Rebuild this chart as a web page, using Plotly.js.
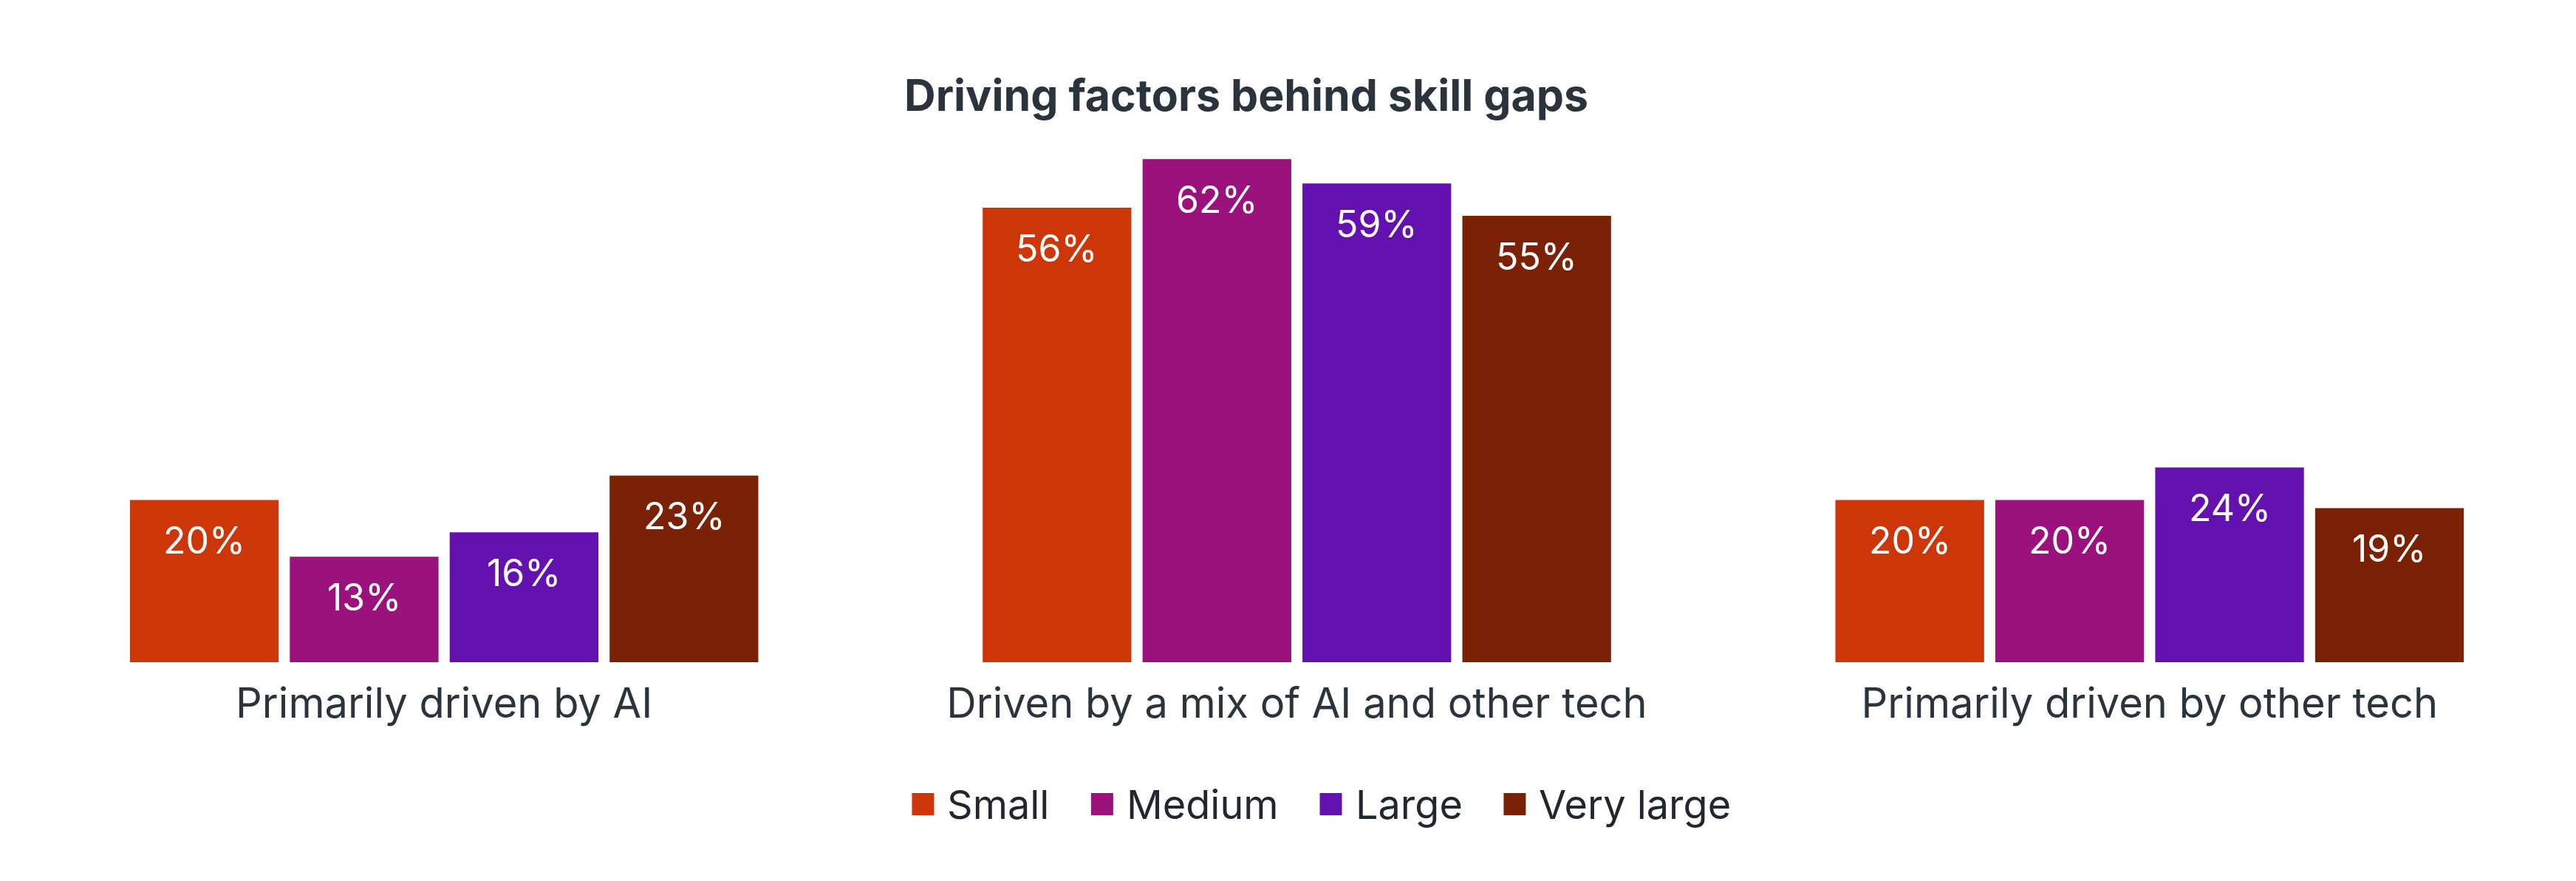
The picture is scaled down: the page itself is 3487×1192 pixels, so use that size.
<!DOCTYPE html>
<html>
<head>
<meta charset="utf-8">
<script src="https://cdn.plot.ly/plotly-3.0.1.min.js"></script>
<style>
  html, body { margin: 0; padding: 0; background: #ffffff; }
  #chart { width: 3487px; height: 1192px; }
</style>
</head>
<body>
<div id="chart"></div>
<script>
// Drivers of skill gaps, split by organisation size
const categories = [
  "Primarily driven by AI",
  "Driven by a mix of AI and other tech",
  "Primarily driven by other tech"
];
const seriesNames = ["Small", "Medium", "Large", "Very large"];
const small     = [20, 56, 20];
const medium    = [13, 62, 20];
const large     = [16, 59, 24];
const veryLarge = [23, 55, 19];
const seriesValues = [small, medium, large, veryLarge];
const seriesColors = ["#CC3608", "#9B127D", "#6412AF", "#7B2105"];

const FONT = "Inter, 'Noto Sans', sans-serif";
const TEXT_DARK = "#2B343C";
const BAR_GAP = 0.25;
const GROUP_GAP = 0.07;
const W = 3487, H = 1192;
const M = { l: 24, r: 0, t: 150, b: 296 };
const plotW = W - M.l - M.r;

const traces = seriesNames.map((name, k) => ({
  type: "bar",
  name: name,
  x: categories,
  y: seriesValues[k],
  marker: { color: seriesColors[k], line: { width: 0 } },
  showlegend: false,
  hoverinfo: "skip"
}));

// Value labels sit a little below the top of each bar
const slot = (1 - BAR_GAP) / seriesNames.length;
const annotations = [];
seriesValues.forEach((vals, k) => {
  vals.forEach((v, i) => {
    annotations.push({
      xref: "x", yref: "y",
      x: i + (k - (seriesNames.length - 1) / 2) * slot,
      y: v,
      yshift: -23,
      yanchor: "top",
      xanchor: "center",
      text: v + "%",
      showarrow: false,
      font: { family: FONT, size: 50, color: "#ffffff" }
    });
  });
});

// Legend row: square swatches followed by labels, centred below the axis
const LEG_FONT = 54, SWATCH = 30, SW_GAP = 16, ITEM_GAP = 58;
const canvas = document.createElement("canvas");
const ctx = canvas.getContext("2d");
ctx.font = LEG_FONT + "px Inter";
const widths = seriesNames.map(n => ctx.measureText(n).width);
const total = widths.reduce((a, w) => a + SWATCH + SW_GAP + w, 0) + ITEM_GAP * (seriesNames.length - 1);
const legCenterPx = 1788;
const plotH = H - M.t - M.b;
const legY = (H - M.b - 1088) / plotH;   // paper units
let cursor = legCenterPx - total / 2;
const shapes = [];
const toPaper = px => (px - M.l) / plotW;
seriesNames.forEach((name, k) => {
  shapes.push({
    type: "rect", xref: "paper", yref: "paper",
    x0: toPaper(cursor), x1: toPaper(cursor + SWATCH),
    y0: legY - (SWATCH / 2) / plotH, y1: legY + (SWATCH / 2) / plotH,
    fillcolor: seriesColors[k], line: { width: 0 }
  });
  cursor += SWATCH + SW_GAP;
  annotations.push({
    xref: "paper", yref: "paper",
    x: toPaper(cursor), y: legY,
    xanchor: "left", yanchor: "middle",
    text: name, showarrow: false,
    font: { family: FONT, size: LEG_FONT, color: "#22272E" }
  });
  cursor += widths[k] + ITEM_GAP;
});

const layout = {
  width: W, height: H,
  margin: M,
  paper_bgcolor: "#ffffff",
  plot_bgcolor: "#ffffff",
  barmode: "group",
  bargap: BAR_GAP,
  bargroupgap: GROUP_GAP,
  title: {
    text: "<b>Driving factors behind skill gaps</b>",
    font: { family: FONT, size: 59, color: TEXT_DARK },
    xref: "container", yref: "container",
    x: 1687 / W, y: 1 - 129 / H,
    xanchor: "center", yanchor: "middle"
  },
  xaxis: {
    type: "category",
    showgrid: false, zeroline: false, showline: false,
    ticks: "",
    tickfont: { family: FONT, size: 56, color: TEXT_DARK },
    ticklabelstandoff: 18
  },
  yaxis: {
    range: [0, plotH / 10.98],
    visible: false, showgrid: false, zeroline: false
  },
  showlegend: false,
  annotations: annotations,
  shapes: shapes
};

Plotly.newPlot("chart", traces, layout, { staticPlot: true, displayModeBar: false });
</script>
</body>
</html>
